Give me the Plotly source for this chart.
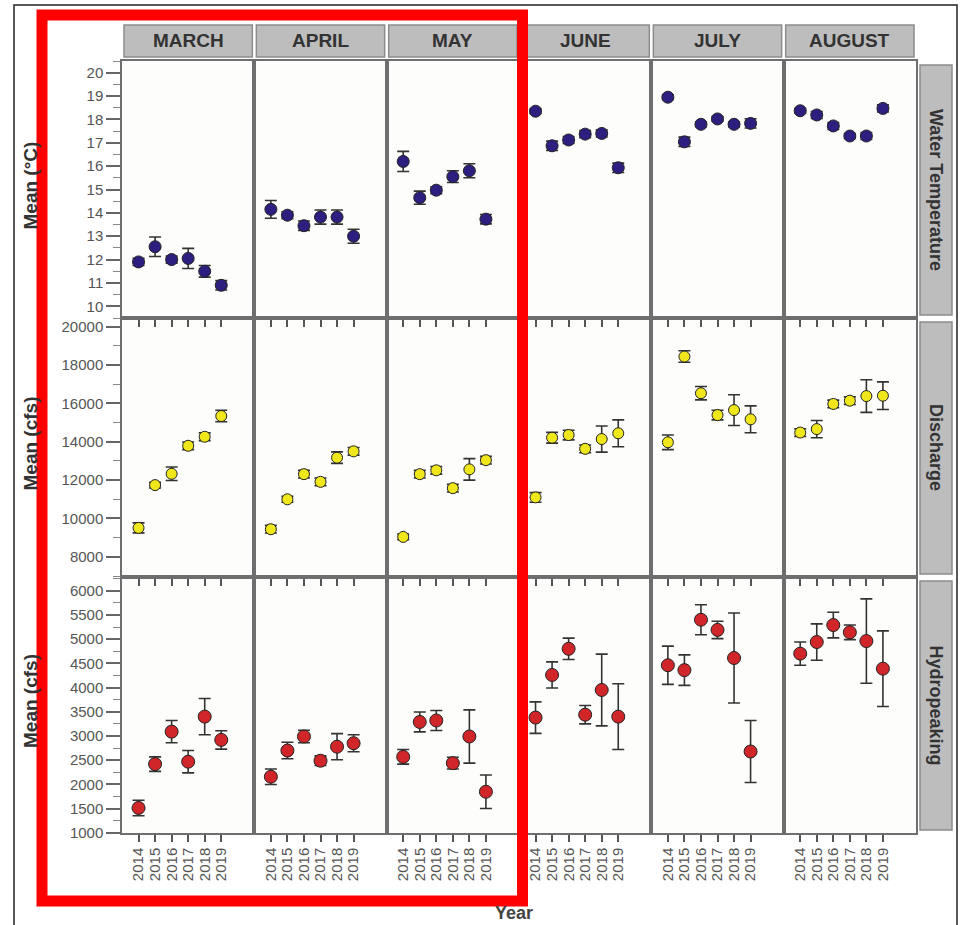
import plotly.graph_objects as go

# ---------------- data ----------------
years = [2014, 2015, 2016, 2017, 2018, 2019]
months = ["MARCH", "APRIL", "MAY", "JUNE", "JULY", "AUGUST"]
variables = ["Water Temperature", "Discharge", "Hydropeaking"]
y_titles = ["Mean (°C)", "Mean (cfs)", "Mean (cfs)"]

temp_mean = [
    [11.9, 12.55, 12.0, 12.05, 11.5, 10.9],
    [14.15, 13.9, 13.45, 13.82, 13.82, 13.0],
    [16.2, 14.65, 14.97, 15.55, 15.8, 13.73],
    [18.35, 16.87, 17.12, 17.37, 17.4, 15.93],
    [18.95, 17.04, 17.79, 18.02, 17.79, 17.83],
    [18.37, 18.19, 17.72, 17.29, 17.29, 18.47],
]
temp_err = [
    [0.15, 0.42, 0.15, 0.43, 0.25, 0.2],
    [0.38, 0.15, 0.2, 0.3, 0.3, 0.3],
    [0.43, 0.28, 0.15, 0.25, 0.3, 0.2],
    [0.1, 0.2, 0.15, 0.15, 0.15, 0.2],
    [0.1, 0.2, 0.1, 0.1, 0.1, 0.2],
    [0.1, 0.15, 0.15, 0.1, 0.15, 0.15],
]
discharge_mean = [
    [9510, 11740, 12330, 13790, 14260, 15340],
    [9440, 11000, 12310, 11910, 13170, 13500],
    [9040, 12310, 12510, 11580, 12560, 13040],
    [11100, 14210, 14350, 13630, 14140, 14440],
    [13970, 18440, 16530, 15390, 15650, 15170],
    [14480, 14660, 15970, 16140, 16380, 16400],
]
discharge_err = [
    [260, 150, 350, 200, 200, 300],
    [200, 150, 200, 200, 300, 200],
    [150, 200, 200, 200, 560, 200],
    [250, 280, 250, 200, 680, 700],
    [380, 300, 350, 250, 800, 700],
    [200, 450, 200, 200, 850, 720],
]
hydro_mean = [
    [1515, 2420, 3090, 2470, 3400, 2920],
    [2160, 2700, 2990, 2490, 2780, 2850],
    [2570, 3290, 3320, 2440, 2990, 1850],
    [3380, 4260, 4800, 3440, 3950, 3400],
    [4460, 4360, 5400, 5190, 4610, 2680],
    [4700, 4940, 5290, 5140, 4960, 4390],
]
hydro_err = [
    [160, 150, 230, 230, 375, 190],
    [160, 170, 130, 100, 270, 175],
    [150, 205, 205, 120, 550, 345],
    [325, 270, 220, 190, 740, 680],
    [395, 315, 310, 180, 930, 640],
    [240, 375, 265, 150, 870, 780],
]

# ---------------- styling ----------------
W, H = 961, 925
ML, MR, MT, MB = 122, 45, 61, 92
PW, PH = W - ML - MR, H - MT - MB
FONT = "Liberation Sans, Arial, sans-serif"

def px(x):
    return (x - ML) / PW

def py(y):
    return (H - MB - y) / PH

row_edges = [61, 318, 577, 833]
col_edges = [122 + i * (794 / 6) for i in range(7)]

series = [
    (temp_mean, temp_err, "#2d1f80", 12),
    (discharge_mean, discharge_err, "#f0e61c", 11),
    (hydro_mean, hydro_err, "#d0262a", 13),
]
y_ranges = [[9.5, 20.5], [6950, 20450], [998, 6282]]
y_dticks = [1, 2000, 500]
y_minor = [0.5, 1000, 250]

fig = go.Figure()
layout = {}

for r in range(3):
    means, errs, color, msize = series[r]
    for c in range(6):
        idx = r * 6 + c + 1
        xa = "x" if idx == 1 else f"x{idx}"
        ya = "y" if idx == 1 else f"y{idx}"
        fig.add_trace(go.Scatter(
            x=years, y=means[c], mode="markers",
            marker=dict(size=msize, color=color, line=dict(color="#222222", width=1)),
            error_y=dict(type="data", array=errs[c], visible=True,
                         color="#333333", thickness=1.6, width=6),
            xaxis=xa, yaxis=ya, showlegend=False, cliponaxis=False,
        ))
        xkey = "xaxis" if idx == 1 else f"xaxis{idx}"
        ykey = "yaxis" if idx == 1 else f"yaxis{idx}"
        layout[xkey] = dict(
            domain=[px(col_edges[c]), px(col_edges[c + 1])],
            anchor=ya, range=[2013, 2021],
            tickmode="array", tickvals=years, ticktext=[str(y) for y in years],
            showticklabels=(r == 2), tickangle=-90,
            ticks="outside", ticklen=7, tickwidth=1.5, tickcolor="#555555",
            tickfont=dict(family=FONT, size=15, color="#555555"),
            showline=True, mirror=True, linecolor="#6e6e6e", linewidth=1.5,
            showgrid=False, zeroline=False, fixedrange=True,
        )
        ydict = dict(
            domain=[py(row_edges[r + 1]), py(row_edges[r])],
            anchor=xa, range=y_ranges[r],
            showline=True, mirror=True, linecolor="#6e6e6e", linewidth=1.5,
            showgrid=False, zeroline=False, fixedrange=True,
        )
        if c == 0:
            ydict.update(
                dtick=y_dticks[r], tick0=0, tickformat="d",
                ticks="outside", ticklen=14,
                tickwidth=1.5, tickcolor="#666666",
                tickfont=dict(family=FONT, size=15, color="#555555"),
                showticklabels=True,
                minor=dict(dtick=y_minor[r], tick0=0, ticks="outside", ticklen=7,
                           tickcolor="#888888", tickwidth=1),
            )
        else:
            ydict.update(showticklabels=False, ticks="")
        layout[ykey] = ydict

shapes = []
annotations = []

# top strips (months)
for c, m in enumerate(months):
    x0, x1 = col_edges[c] + 2, col_edges[c + 1] - 2
    shapes.append(dict(type="rect", xref="paper", yref="paper",
                       x0=px(x0), x1=px(x1), y0=py(57), y1=py(25),
                       fillcolor="#bdbdbd", line=dict(color="#8c8c8c", width=1.5), layer="below"))
    annotations.append(dict(xref="paper", yref="paper", x=px((x0 + x1) / 2), y=py(41),
                            text=f"<b>{m}</b>", showarrow=False,
                            font=dict(family=FONT, size=19, color="#333333"),
                            xanchor="center", yanchor="middle"))

# right strips (variables)
for r, v in enumerate(variables):
    y0, y1 = row_edges[r] + 4, row_edges[r + 1] - 3
    shapes.append(dict(type="rect", xref="paper", yref="paper",
                       x0=px(920), x1=px(952), y0=py(y1), y1=py(y0),
                       fillcolor="#bdbdbd", line=dict(color="#8c8c8c", width=1.5), layer="below"))
    annotations.append(dict(xref="paper", yref="paper", x=px(936), y=py((y0 + y1) / 2),
                            text=f"<b>{v}</b>", showarrow=False, textangle=90,
                            font=dict(family=FONT, size=18, color="#333333"),
                            xanchor="center", yanchor="middle"))

# y-axis titles
for r, t in enumerate(y_titles):
    annotations.append(dict(xref="paper", yref="paper", x=px(30),
                            y=py((row_edges[r] + row_edges[r + 1]) / 2 - 4),
                            text=f"<b>{t}</b>", showarrow=False, textangle=-90,
                            font=dict(family=FONT, size=19, color="#333333"),
                            xanchor="center", yanchor="middle"))

# x-axis title
annotations.append(dict(xref="paper", yref="paper", x=px(514), y=py(913),
                        text="<b>Year</b>", showarrow=False,
                        font=dict(family=FONT, size=18, color="#444444"),
                        xanchor="center", yanchor="middle"))

# outer frame
shapes.append(dict(type="rect", xref="paper", yref="paper",
                   x0=px(14), x1=px(957), y0=py(940), y1=py(5),
                   line=dict(color="#222222", width=1.5), fillcolor="rgba(0,0,0,0)"))
# red highlight box
shapes.append(dict(type="rect", xref="paper", yref="paper",
                   x0=px(42), x1=px(522.5), y0=py(901), y1=py(15),
                   line=dict(color="#ff0000", width=11), fillcolor="rgba(0,0,0,0)", layer="above"))

fig.update_layout(
    width=W, height=H,
    margin=dict(l=ML, r=MR, t=MT, b=MB, autoexpand=False),
    paper_bgcolor="white", plot_bgcolor="#fdfdfb",
    shapes=shapes, annotations=annotations,
    font=dict(family=FONT),
    **layout,
)

fig.write_html("out.html")
